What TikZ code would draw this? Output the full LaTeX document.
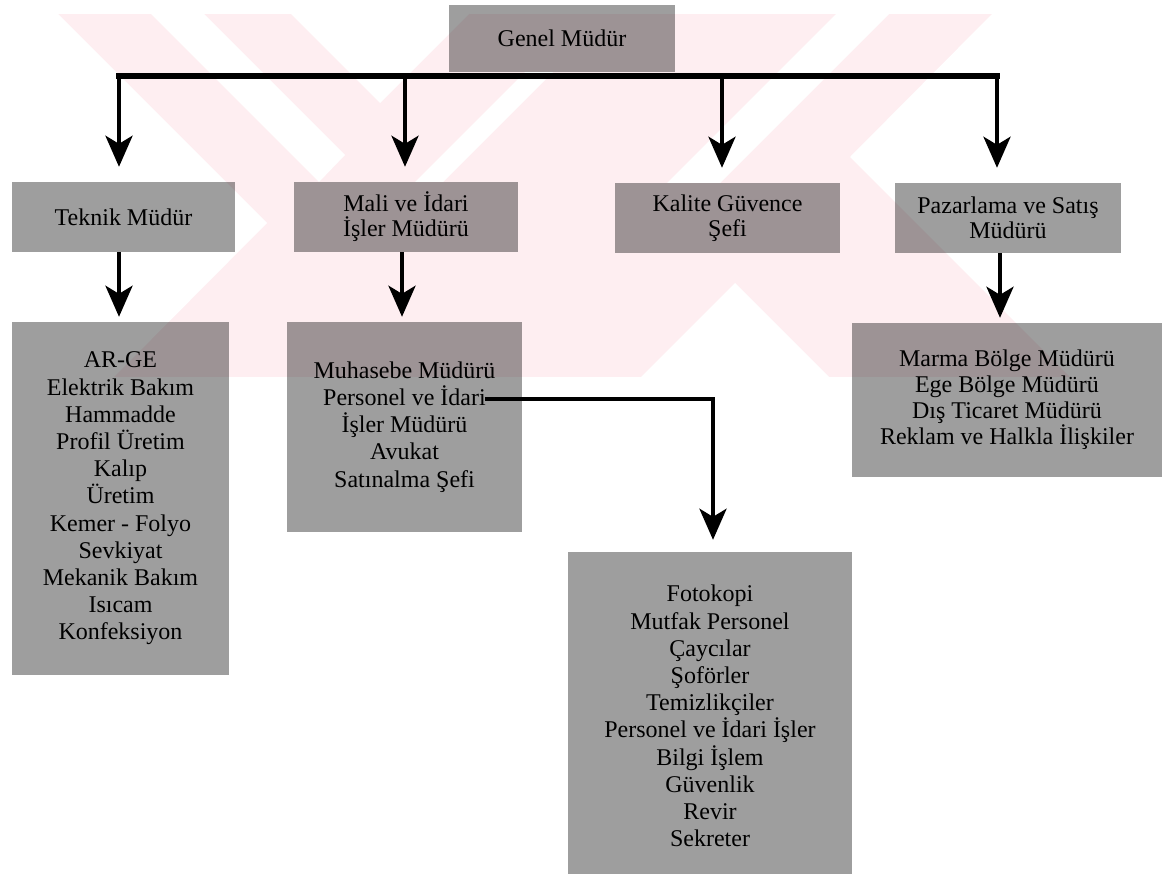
\documentclass[tikz,border=0pt]{standalone}
\usepackage{fontspec}
\setmainfont{Liberation Serif}
\usetikzlibrary{arrows.meta}
\definecolor{wmpink}{RGB}{254,238,241}

\tikzset{
  wm/.style={fill=wmpink, draw=none},
  wmgap/.style={fill=white, draw=none},
  unitbox/.style={fill=black, fill opacity=0.38, text opacity=1, draw=none,
    inner sep=0pt, align=center},
  headtext/.style={font=\fontsize{24}{25}\selectfont},
  listtext/.style={font=\fontsize{24}{27.2}\selectfont},
  feed/.style={line width=4pt, line join=miter,
    -{Stealth[length=31pt,width=27pt,inset=8pt]}},
  busline/.style={line width=6.5pt, line cap=rect},
}

\begin{document}
\begin{tikzpicture}[x=1pt,y=-1pt]
\useasboundingbox (0,0) rectangle (1165,874);

% pale emblem in the background
\fill[wm] (58,14) rectangle (1080,377);
\fill[wmgap] (57,13) -- (267,223) -- (113,378) -- (57,378) -- cycle;
\fill[wmgap] (150,13) -- (203,13) -- (345,155) -- (319,182) -- cycle;
\fill[wmgap] (290,13) -- (470,13) -- (380,103) -- cycle;
\fill[wmgap] (525,72) -- (553,72) -- (443,182) -- (415,182) -- cycle;
\fill[wmgap] (640,378) -- (735,283) -- (830,378) -- cycle;
\fill[wmgap] (837,13) -- (890,13) -- (720,183) -- (667,183) -- cycle;
\fill[wmgap] (993,13) -- (1081,13) -- (1081,378) -- (1071,378) -- (850,157) -- cycle;

% units
\node[unitbox, headtext, minimum width=226pt, minimum height=67pt] (gm) at (562,38.5) {Genel Müdür};

\node[unitbox, headtext, minimum width=223pt, minimum height=70pt] (tek) at (123.5,217) {Teknik Müdür};
\node[unitbox, headtext, minimum width=224pt, minimum height=70pt] (mali) at (406,217) {Mali ve İdari\\İşler Müdürü};
\node[unitbox, headtext, minimum width=225pt, minimum height=70pt] (kal) at (727.5,218) {Kalite Güvence\\Şefi};
\node[unitbox, headtext, minimum width=226pt, minimum height=70pt] (paz) at (1008,218) {Pazarlama ve Satış\\Müdürü};

\node[unitbox, listtext, minimum width=217pt, minimum height=353pt] (tsub) at (120.5,498.5)
  {AR-GE\\Elektrik Bakım\\Hammadde\\Profil Üretim\\Kalıp\\Üretim\\Kemer - Folyo\\Sevkiyat\\Mekanik Bakım\\Isıcam\\Konfeksiyon};
\node[unitbox, listtext, minimum width=235pt, minimum height=210pt] (msub) at (404.5,427)
  {Muhasebe Müdürü\\Personel ve İdari\\İşler Müdürü\\Avukat\\Satınalma Şefi};
\node[unitbox, font=\fontsize{24}{26}\selectfont, minimum width=310pt, minimum height=154pt] (psub) at (1007,400)
  {Marma Bölge Müdürü\\Ege Bölge Müdürü\\Dış Ticaret Müdürü\\Reklam ve Halkla İlişkiler};
\node[unitbox, listtext, minimum width=284pt, minimum height=328pt] (foto) at (710,716)
  {Fotokopi\\Mutfak Personel\\Çaycılar\\Şoförler\\Temizlikçiler\\Personel ve İdari İşler\\Bilgi İşlem\\Güvenlik\\Revir\\Sekreter};

% distribution bar under the general manager
\coordinate (j1) at (119,76);
\coordinate (j2) at (405,76);
\coordinate (j3) at (722,76);
\coordinate (j4) at (997,76);
\draw[busline] (j1) -- (j4);

\draw[feed, shorten >=15pt] (j1) -- (j1 |- tek.north);
\draw[feed, shorten >=15pt] (j2) -- (j2 |- mali.north);
\draw[feed, shorten >=15pt] (j3) -- (j3 |- kal.north);
\draw[feed, shorten >=15pt] (j4) -- (j4 |- paz.north);

% second level
\draw[feed, shorten >=5pt] (tek.south -| j1) -- (tsub.north -| j1);
\draw[feed, shorten >=5pt] ([xshift=-2.5pt]mali.south -| msub.north) -- ([xshift=-2.5pt]msub.north);
\draw[feed, shorten >=5pt] ([xshift=3pt]paz.south -| j4) -- ([xshift=3pt]psub.north -| j4);

% personnel and administration link
\coordinate (pid) at (485,399);
\coordinate (pturn) at (713,399);
\draw[feed, shorten >=12pt] (pid) -- (pturn) -- (pturn |- foto.north);
\end{tikzpicture}
\end{document}
